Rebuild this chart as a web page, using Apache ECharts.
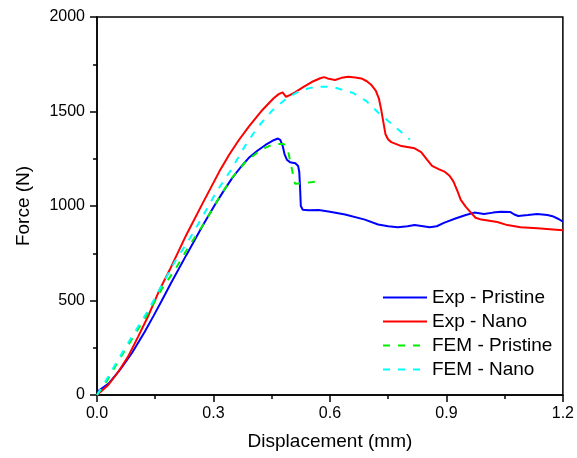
<!DOCTYPE html>
<html>
<head>
<meta charset="utf-8">
<script src="https://cdn.jsdelivr.net/npm/echarts@6/dist/echarts.min.js"></script>
<style>html,body{margin:0;padding:0;background:#fff;}#c{width:577px;height:458px;}</style>
</head>
<body>
<div id="c"></div>
<script>
const seriesNames = ['Exp - Pristine', 'Exp - Nano', 'FEM - Pristine', 'FEM - Nano'];
const xTicks = [0, 0.3, 0.6, 0.9, 1.2];
const yTicks = [0, 500, 1000, 1500, 2000];

const expPristine = [[0,17],[0.03,60],[0.06,135],[0.09,222],[0.123,335],[0.146,420],[0.167,500],[0.19,590],[0.23,740],[0.272,895],[0.306,1014],[0.33,1092],[0.349,1150],[0.37,1205],[0.391,1255],[0.413,1292],[0.434,1323],[0.455,1348],[0.466,1357],[0.472,1350],[0.478,1320],[0.483,1275],[0.489,1245],[0.497,1232],[0.511,1226],[0.518,1212],[0.521,1180],[0.523,1100],[0.525,1000],[0.53,980],[0.545,977],[0.571,979],[0.60,970],[0.639,955],[0.69,928],[0.724,902],[0.75,893],[0.775,887],[0.80,893],[0.818,899],[0.84,893],[0.857,887],[0.875,893],[0.895,912],[0.925,935],[0.95,952],[0.972,965],[0.997,958],[1.02,965],[1.04,970],[1.065,968],[1.075,955],[1.085,947],[1.11,952],[1.134,958],[1.16,952],[1.176,944],[1.19,930],[1.2,917]];

const expNano = [[0,0],[0.029,53],[0.055,123],[0.08,203],[0.106,309],[0.131,414],[0.146,485],[0.161,556],[0.187,661],[0.23,847],[0.272,1014],[0.315,1182],[0.34,1270],[0.365,1348],[0.391,1420],[0.426,1508],[0.455,1570],[0.468,1592],[0.478,1601],[0.482,1598],[0.487,1578],[0.498,1588],[0.511,1603],[0.53,1628],[0.553,1656],[0.575,1676],[0.585,1682],[0.588,1692],[0.594,1675],[0.613,1667],[0.63,1678],[0.647,1684],[0.665,1680],[0.681,1675],[0.695,1660],[0.707,1640],[0.718,1610],[0.726,1570],[0.732,1510],[0.737,1450],[0.743,1380],[0.75,1352],[0.758,1338],[0.784,1317],[0.818,1305],[0.835,1285],[0.85,1245],[0.863,1212],[0.88,1195],[0.895,1182],[0.908,1160],[0.918,1130],[0.929,1076],[0.937,1032],[0.95,995],[0.963,965],[0.975,938],[0.99,928],[1.031,915],[1.057,899],[1.091,887],[1.134,882],[1.2,872]];

const femPristine = [[0,0],[0.025,72],[0.059,194],[0.095,312],[0.131,432],[0.1655,556],[0.203,670],[0.239,794],[0.276,908],[0.31,1028],[0.345,1143],[0.383,1234],[0.421,1296],[0.455,1328],[0.481,1328],[0.492,1292],[0.51,1118],[0.53,1120],[0.566,1130]];

const femNano = [[0,0],[0.025,83],[0.059,203],[0.095,326],[0.131,445],[0.1655,575],[0.202,710],[0.238,825],[0.274,952],[0.308,1076],[0.345,1190],[0.379,1310],[0.413,1415],[0.451,1505],[0.489,1570],[0.524,1612],[0.562,1631],[0.605,1631],[0.66,1598],[0.694,1555],[0.724,1495],[0.762,1429],[0.806,1352]];

const colors = ['#0000FF', '#FF0000', '#00EE00', '#00FFFF'];
const dataSets = [expPristine, expNano, femPristine, femNano];
const dashed = [false, false, true, true];

const FONT = 'Liberation Sans, Arial, sans-serif';
const chart = echarts.init(document.getElementById('c'), null, {renderer: 'canvas'});

const series = dataSets.map((d, i) => ({
  name: seriesNames[i],
  type: 'line',
  data: d,
  showSymbol: false,
  symbol: 'none',
  smooth: false,
  animation: false,
  lineStyle: {color: colors[i], width: 2, type: dashed[i] ? [7, 8] : 'solid'},
  itemStyle: {color: colors[i]}
}));

chart.setOption({
  animation: false,
  grid: {left: 97, right: 11, top: 17, bottom: 63, show: true, borderColor: '#000', borderWidth: 1.5, backgroundColor: 'transparent'},
  legend: {
    orient: 'vertical', left: 377, top: 283, itemWidth: 44, itemHeight: 14, itemGap: 5,
    itemStyle: {opacity: 0, color: 'transparent', borderWidth: 0},
    textStyle: {fontFamily: FONT, fontSize: 19, color: '#000'},
    data: seriesNames
  },
  xAxis: {
    type: 'value', min: xTicks[0], max: xTicks[xTicks.length - 1], interval: 0.3,
    name: 'Displacement (mm)', nameLocation: 'middle', nameGap: 37,
    nameTextStyle: {fontFamily: FONT, fontSize: 19, color: '#000'},
    axisLine: {show: true, onZero: false, lineStyle: {color: '#000', width: 1.5}},
    axisTick: {show: true, inside: false, length: 7, lineStyle: {color: '#000', width: 1.5}},
    minorTick: {show: true, splitNumber: 2, length: 4, lineStyle: {color: '#000', width: 1.5}},
    splitLine: {show: false},
    axisLabel: {fontFamily: FONT, fontSize: 16, color: '#000', margin: 11, formatter: v => v.toFixed(1)}
  },
  yAxis: {
    type: 'value', min: yTicks[0], max: yTicks[yTicks.length - 1], interval: 500,
    name: 'Force (N)', nameLocation: 'middle', nameGap: 64,
    nameTextStyle: {fontFamily: FONT, fontSize: 19, color: '#000'},
    axisLine: {show: true, onZero: false, lineStyle: {color: '#000', width: 1.5}},
    axisTick: {show: true, inside: false, length: 7, lineStyle: {color: '#000', width: 1.5}},
    minorTick: {show: true, splitNumber: 2, length: 4, lineStyle: {color: '#000', width: 1.5}},
    splitLine: {show: false},
    axisLabel: {fontFamily: FONT, fontSize: 16, color: '#000', margin: 12, formatter: v => String(v)}
  },
  series: series
});
</script>
</body>
</html>
